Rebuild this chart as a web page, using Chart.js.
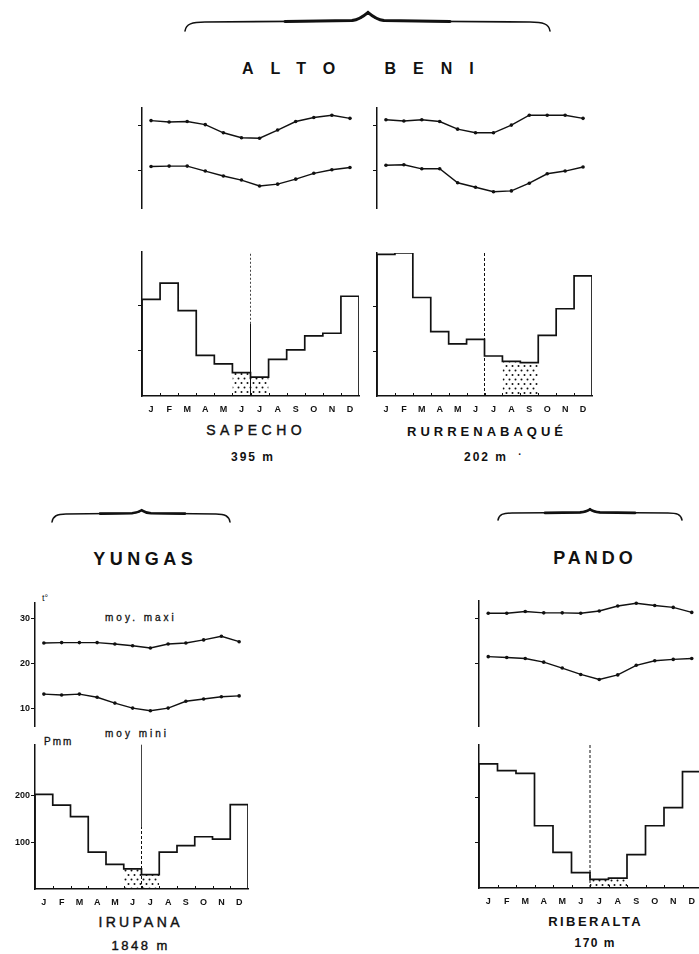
<!DOCTYPE html>
<html>
<head>
<meta charset="utf-8">
<script src="https://cdn.jsdelivr.net/npm/chart.js@4.4.0/dist/chart.umd.min.js"></script>
<style>
  body { margin: 0; background: #fff; }
  #page { position: relative; width: 699px; height: 954px; overflow: hidden; background: #fff;
          font-family: "Liberation Sans", Arial, sans-serif; color: #111; }
  #page canvas { position: absolute; }
  .t { position: absolute; white-space: nowrap; line-height: 1; }
  .c { transform: translate(-50%, -50%); }
  .l { transform: translate(0, -50%); }
  svg { position: absolute; left: 0; top: 0; }
</style>
</head>
<body>
<div id="page">
  <svg width="699" height="954">
    <g fill="none" stroke="#111" stroke-linecap="round">
      <!-- Alto Beni brace -->
      <path stroke-width="1.6" d="M185,31 C186,24 192,22 205,22 L350,21 C360,20 364,16 368,12 C372,16 376,20 386,21 L530,22 C543,22 549,24 550,31"/>
      <path stroke-width="3" d="M285,21.4 L352,20.6 C360,19.6 364,16 368,12.5 C372,16 376,19.6 384,20.6 L450,21.4"/>
      <!-- Yungas brace -->
      <path stroke-width="1.5" d="M52,522 C53,516 57,514 66,514 L132,513.3 C137,513 139.5,512 141.7,510 C144,512 146.5,513 151,513.3 L216,514 C225,514 229,516 230,522"/>
      <path stroke-width="2.6" d="M100,513.6 L132,513.2 C137,512.8 139.5,511.8 141.7,510.3 C144,511.8 146.5,512.8 151,513.2 L185,513.6"/>
      <!-- Pando brace -->
      <path stroke-width="1.5" d="M498,520 C499,514.5 503,513 512,513 L580,512.5 C585,512 588,511 590,509 C592,511 595,512 600,512.5 L668,513 C677,513 681,514.5 682,520"/>
      <path stroke-width="2.6" d="M545,512.9 L580,512.4 C585,511.9 588,510.9 590,509.3 C592,510.9 595,511.9 600,512.4 L635,512.9"/>
    </g>
  </svg>

  <div class="t l" style="left:242px; top:69px; font-size:16px; font-weight:bold; letter-spacing:17px; word-spacing:11px;">ALTO BENI</div>
  <div class="t c" style="left:143px; top:559px; font-size:18px; font-weight:bold; letter-spacing:4.5px; padding-left:4.5px;">YUNGAS</div>
  <div class="t c" style="left:593px; top:558px; font-size:18px; font-weight:bold; letter-spacing:4px; padding-left:4px;">PANDO</div>

  <div class="t c" style="left:254px; top:429.5px; font-size:14px; letter-spacing:4.5px; padding-left:4.5px; -webkit-text-stroke:0.4px #111;">SAPECHO</div>
  <div class="t c" style="left:252px; top:457px; font-size:12px; font-weight:bold; letter-spacing:2px; padding-left:2px;">395 m</div>
  <div class="t c" style="left:485px; top:431px; font-size:13px; font-weight:bold; letter-spacing:4px; padding-left:4px;">RURRENABAQUÉ</div>
  <div class="t c" style="left:485px; top:457px; font-size:12px; font-weight:bold; letter-spacing:2px; padding-left:2px;">202 m</div>
  <div class="t c" style="left:520px; top:455px; font-size:10px; font-weight:bold;">·</div>

  <div class="t c" style="left:45px; top:598px; font-size:9px;">t°</div>
  <div class="t l" style="left:105px; top:618px; font-size:10px; letter-spacing:3px; -webkit-text-stroke:0.3px #111;">moy. maxi</div>
  <div class="t l" style="left:105px; top:734px; font-size:10px; letter-spacing:3px; -webkit-text-stroke:0.3px #111;">moy mini</div>
  <div class="t l" style="left:44px; top:742px; font-size:10px; letter-spacing:2px; -webkit-text-stroke:0.3px #111;">Pmm</div>

  <div class="t c" style="left:139px; top:921.5px; font-size:14px; letter-spacing:3.3px; padding-left:3.3px; -webkit-text-stroke:0.4px #111;">IRUPANA</div>
  <div class="t c" style="left:139.5px; top:945px; font-size:13px; letter-spacing:2.5px; padding-left:2.5px; -webkit-text-stroke:0.4px #111;">1848 m</div>
  <div class="t c" style="left:594.5px; top:920.7px; font-size:13px; font-weight:bold; letter-spacing:2.4px; padding-left:2.4px;">RIBERALTA</div>
  <div class="t c" style="left:594.5px; top:943.3px; font-size:12px; font-weight:bold; letter-spacing:1.5px; padding-left:1.5px;">170 m</div>
</div>

<script>
// month letters
const months = ["J", "F", "M", "A", "M", "J", "J", "A", "S", "O", "N", "D"];

// Sapecho 395 m
const sapechoTmax = [31.1, 30.8, 30.9, 30.2, 28.4, 27.3, 27.2, 29.0, 30.9, 31.8, 32.3, 31.6];
const sapechoTmin = [20.9, 21.0, 21.0, 19.9, 18.8, 17.9, 16.6, 17.0, 18.1, 19.4, 20.2, 20.7];
const sapechoRain = [214, 250, 189, 90, 71, 52, 42, 81, 102, 133, 139, 221];
const sapechoDry = [5, 6];

// Rurrenabaque 202 m
const rurreTmax = [31.3, 31.0, 31.3, 30.9, 29.2, 28.4, 28.4, 30.1, 32.3, 32.3, 32.3, 31.6];
const rurreTmin = [21.2, 21.3, 20.4, 20.4, 17.3, 16.3, 15.3, 15.5, 17.2, 19.3, 19.9, 20.8];
const rurreRain = [315, 318, 219, 143, 116, 126, 89, 77, 74, 135, 194, 267];
const rurreDry = [7, 8];

// Irupana 1848 m
const irupanaTmax = [24.5, 24.6, 24.6, 24.6, 24.3, 23.9, 23.4, 24.3, 24.5, 25.2, 26.0, 24.8];
const irupanaTmin = [13.2, 13.0, 13.2, 12.5, 11.2, 10.1, 9.5, 10.1, 11.6, 12.1, 12.6, 12.8];
const irupanaRain = [203, 180, 155, 79, 53, 43, 31, 79, 93, 112, 107, 181];
const irupanaDry = [5, 6];

// Riberalta 170 m
const riberaltaTmax = [31.1, 31.1, 31.5, 31.2, 31.2, 31.1, 31.6, 32.7, 33.3, 32.8, 32.4, 31.3];
const riberaltaTmin = [21.6, 21.4, 21.2, 20.4, 19.1, 17.7, 16.6, 17.6, 19.7, 20.7, 21.0, 21.2];
const riberaltaRain = [275, 260, 254, 138, 79, 34, 19, 22, 74, 138, 178, 258];
const riberaltaDry = [6, 7];

// axis ticks
const tempTicksFull = [10, 20, 30];
const tempTicksHigh = [20, 30];
const rainTicks = [100, 200];

const ink = "#111";
const fontFamily = "'Liberation Sans', Arial, sans-serif";
const page = document.getElementById("page");

// dotted fill for the dry months
function dotPattern() {
  const c = document.createElement("canvas");
  c.width = 6;
  c.height = 9;
  const g = c.getContext("2d");
  g.fillStyle = ink;
  g.beginPath();
  g.arc(1.5, 2, 1, 0, Math.PI * 2);
  g.arc(4.5, 6.5, 1, 0, Math.PI * 2);
  g.fill();
  return g.createPattern(c, "repeat");
}
const dots = dotPattern();

// little marks standing on the baseline between months
const monthMarks = {
  id: "monthMarks",
  afterDatasetsDraw(chart) {
    const { ctx, chartArea } = chart;
    const x = chart.scales.x;
    ctx.save();
    ctx.strokeStyle = ink;
    ctx.lineWidth = 1;
    for (let i = 1; i < 12; i++) {
      const px = Math.round(x.getPixelForValue(i)) + 0.5;
      ctx.beginPath();
      ctx.moveTo(px, chartArea.bottom);
      ctx.lineTo(px, chartArea.bottom - 3);
      ctx.stroke();
    }
    ctx.restore();
  },
};

function placeCanvas(area, pad) {
  const c = document.createElement("canvas");
  c.width = area.w + pad.l + pad.r;
  c.height = area.h + pad.t + pad.b;
  c.style.left = area.x - pad.l + "px";
  c.style.top = area.y - pad.t + "px";
  page.appendChild(c);
  return c;
}

function yAxis(min, max, ticks, showLabels, padL) {
  return {
    min: min,
    max: max,
    afterFit: (s) => { s.width = padL; },
    afterBuildTicks: (s) => { s.ticks = ticks.map((v) => ({ value: v })); },
    border: { display: true, color: ink, width: 1.5 },
    grid: { drawOnChartArea: false, drawTicks: true, tickLength: 4, color: ink, lineWidth: 1 },
    ticks: {
      display: showLabels,
      padding: 1,
      color: ink,
      font: { family: fontFamily, size: 9, weight: "bold" },
    },
  };
}

function tempChart(area, tmax, tmin, yMin, yMax, ticks, showLabels) {
  const pad = { l: 40, r: 6, t: 6, b: 6 };
  const line = (vals) => ({
    data: vals.map((v, i) => ({ x: i + 0.5, y: v })),
    borderColor: ink,
    borderWidth: 1.4,
    pointRadius: 1.8,
    pointBorderWidth: 0,
    pointBackgroundColor: ink,
    tension: 0,
  });
  new Chart(placeCanvas(area, pad), {
    type: "line",
    data: { datasets: [line(tmax), line(tmin)] },
    options: {
      responsive: false,
      animation: false,
      events: [],
      layout: { padding: { top: pad.t, right: pad.r, bottom: pad.b, left: 0 } },
      plugins: { legend: { display: false }, tooltip: { enabled: false } },
      scales: {
        x: { type: "linear", min: 0, max: 12, display: false },
        y: yAxis(yMin, yMax, ticks, showLabels, pad.l),
      },
    },
  });
}

function rainChart(area, rain, dry, yMax, divider, showLabels) {
  const pad = { l: 40, r: 6, t: 6, b: 22 };
  const steps = [{ x: 0, y: 0 }]
    .concat(rain.map((v, i) => ({ x: i, y: v })))
    .concat([{ x: 12, y: rain[11] }, { x: 12, y: 0 }]);
  const last = dry[dry.length - 1];
  const dryPts = dry.map((i) => ({ x: i, y: rain[i] })).concat([{ x: last + 1, y: rain[last] }]);

  new Chart(placeCanvas(area, pad), {
    type: "line",
    data: {
      datasets: [
        { data: dryPts, stepped: true, fill: "origin", backgroundColor: dots, borderWidth: 0, pointRadius: 0 },
        { data: steps, stepped: true, fill: false, borderColor: ink, borderWidth: 1.7, pointRadius: 0 },
        // mid-year divider, lower and upper part
        { data: [{ x: 6, y: 0 }, { x: 6, y: divider.split }], borderColor: ink, borderWidth: 1,
          borderDash: divider.lowDash, pointRadius: 0 },
        { data: [{ x: 6, y: divider.split }, { x: 6, y: yMax }], borderColor: "#444", borderWidth: 1,
          borderDash: divider.highDash, pointRadius: 0 },
      ],
    },
    options: {
      responsive: false,
      animation: false,
      events: [],
      layout: { padding: { top: pad.t, right: pad.r, bottom: 0, left: 0 } },
      plugins: { legend: { display: false }, tooltip: { enabled: false } },
      scales: {
        x: {
          type: "linear",
          min: 0,
          max: 12,
          afterFit: (s) => { s.height = pad.b; },
          afterBuildTicks: (s) => { s.ticks = months.map((m, i) => ({ value: i + 0.5 })); },
          border: { display: true, color: ink, width: 1.5 },
          grid: { display: false },
          ticks: {
            autoSkip: false,
            maxRotation: 0,
            padding: 0,
            color: ink,
            font: { family: fontFamily, size: 9, weight: "bold" },
            callback: (v, i) => months[i],
          },
        },
        y: yAxis(0, yMax, rainTicks, showLabels, pad.l),
      },
    },
    plugins: [monthMarks],
  });
}

const dashedAll = (max) => ({ split: max, lowDash: [3, 2], highDash: [3, 2] });

// ALTO BENI
tempChart({ x: 142, y: 108, w: 217, h: 100 }, sapechoTmax, sapechoTmin, 11.7, 33.9, tempTicksHigh, false);
rainChart({ x: 142, y: 252, w: 217, h: 144 }, sapechoRain, sapechoDry, 319,
  { split: 160, lowDash: [], highDash: [2, 2] }, false);

tempChart({ x: 377, y: 108, w: 215, h: 100 }, rurreTmax, rurreTmin, 11.7, 33.9, tempTicksHigh, false);
rainChart({ x: 377, y: 253, w: 215, h: 143 }, rurreRain, rurreDry, 318, dashedAll(318), false);

// YUNGAS
tempChart({ x: 35, y: 602, w: 213, h: 125 }, irupanaTmax, irupanaTmin, 6.0, 33.5, tempTicksFull, true);
rainChart({ x: 35, y: 744, w: 213, h: 145 }, irupanaRain, irupanaDry, 310,
  { split: 133, lowDash: [3, 2], highDash: [] }, true);

// PANDO
tempChart({ x: 479, y: 601, w: 222, h: 125 }, riberaltaTmax, riberaltaTmin, 6.4, 33.8, tempTicksHigh, false);
rainChart({ x: 479, y: 745, w: 222, h: 143 }, riberaltaRain, riberaltaDry, 317, dashedAll(317), false);
</script>
</body>
</html>
